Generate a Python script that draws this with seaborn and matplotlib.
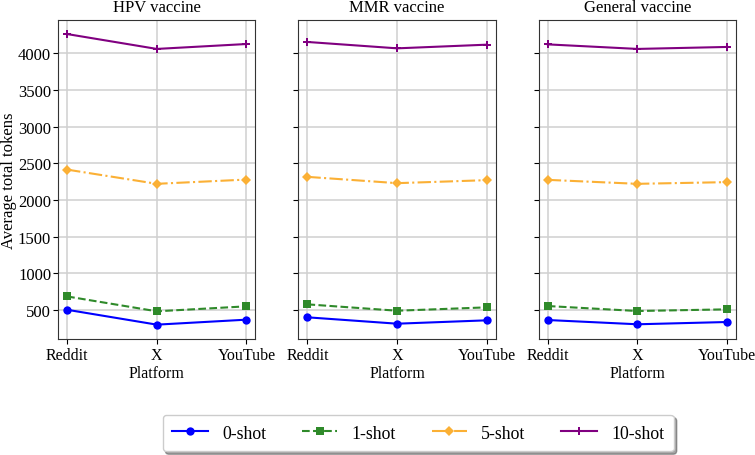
import numpy as np
import pandas as pd
import seaborn as sns
import matplotlib.pyplot as plt

platforms = ["Reddit", "X", "YouTube"]
vaccines = ["HPV vaccine", "MMR vaccine", "General vaccine"]
shots = ["0-shot", "1-shot", "5-shot", "10-shot"]

# average total tokens per platform (Reddit, X, YouTube)
hpv = {
    "0-shot": [500, 297, 365],
    "1-shot": [682, 479, 547],
    "5-shot": [2413, 2219, 2277],
    "10-shot": [4263, 4060, 4127],
}
mmr = {
    "0-shot": [397, 310, 356],
    "1-shot": [574, 487, 533],
    "5-shot": [2314, 2228, 2269],
    "10-shot": [4155, 4068, 4118],
}
general = {
    "0-shot": [360, 302, 333],
    "1-shot": [551, 483, 506],
    "5-shot": [2273, 2219, 2242],
    "10-shot": [4122, 4060, 4087],
}

colors = {"0-shot": "blue", "1-shot": "#2f8a2a", "5-shot": "#fbb035", "10-shot": "purple"}
styles = {"0-shot": "-", "1-shot": "--", "5-shot": "-.", "10-shot": "-"}
marks = {"0-shot": "o", "1-shot": "s", "5-shot": "D", "10-shot": "P"}
msizes = {"0-shot": 6, "1-shot": 6, "5-shot": 5, "10-shot": 6}

rows = []
for vac, tab in zip(vaccines, [hpv, mmr, general]):
    for shot in shots:
        for plat, val in zip(platforms, tab[shot]):
            rows.append({"Vaccine": vac, "Shot": shot, "Platform": plat, "Tokens": val})
df = pd.DataFrame(rows)

plt.rcParams["font.family"] = ["Liberation Serif", "DejaVu Serif"]
plt.rcParams["font.size"] = 12

fig, axes = plt.subplots(1, 3, figsize=(7.55, 4.56), dpi=100, sharey=True)
fig.subplots_adjust(left=0.077, right=0.975, top=0.955, bottom=0.254, wspace=0.218)

for ax, vac in zip(axes, vaccines):
    sub = df[df["Vaccine"] == vac]
    for shot in shots:
        d = sub[sub["Shot"] == shot]
        sns.lineplot(data=d, x="Platform", y="Tokens", ax=ax, sort=False,
                     color=colors[shot], linestyle=styles[shot], marker=marks[shot],
                     markersize=msizes[shot], markeredgewidth=0, label=shot)
    ax.set_title(vac, fontsize=12)
    ax.set_xlabel("Platform", fontsize=11.5, labelpad=1.5)
    ax.set_ylabel("")
    ax.grid(True, color="#d0d0d0", linewidth=1.1)
    ax.set_axisbelow(True)
    ax.tick_params(axis="x", labelsize=11.5, pad=2)
    ax.tick_params(axis="y", labelsize=12, pad=1.5)
    for s in ax.spines.values():
        s.set_color("#333333")
    ax.get_legend().remove()

axes[0].set_ylabel("Average total tokens", fontsize=12, labelpad=0.5)
axes[0].set_yticks(np.arange(500, 4001, 500))

handles, labels = axes[0].get_legend_handles_labels()
fig.legend(handles, labels, loc="lower center", bbox_to_anchor=(0.554, 0.0), ncol=4,
           fontsize=12.8, frameon=True, fancybox=True, shadow=True,
           borderpad=0.55, borderaxespad=0.2)

fig.savefig("out.png", dpi=100)
